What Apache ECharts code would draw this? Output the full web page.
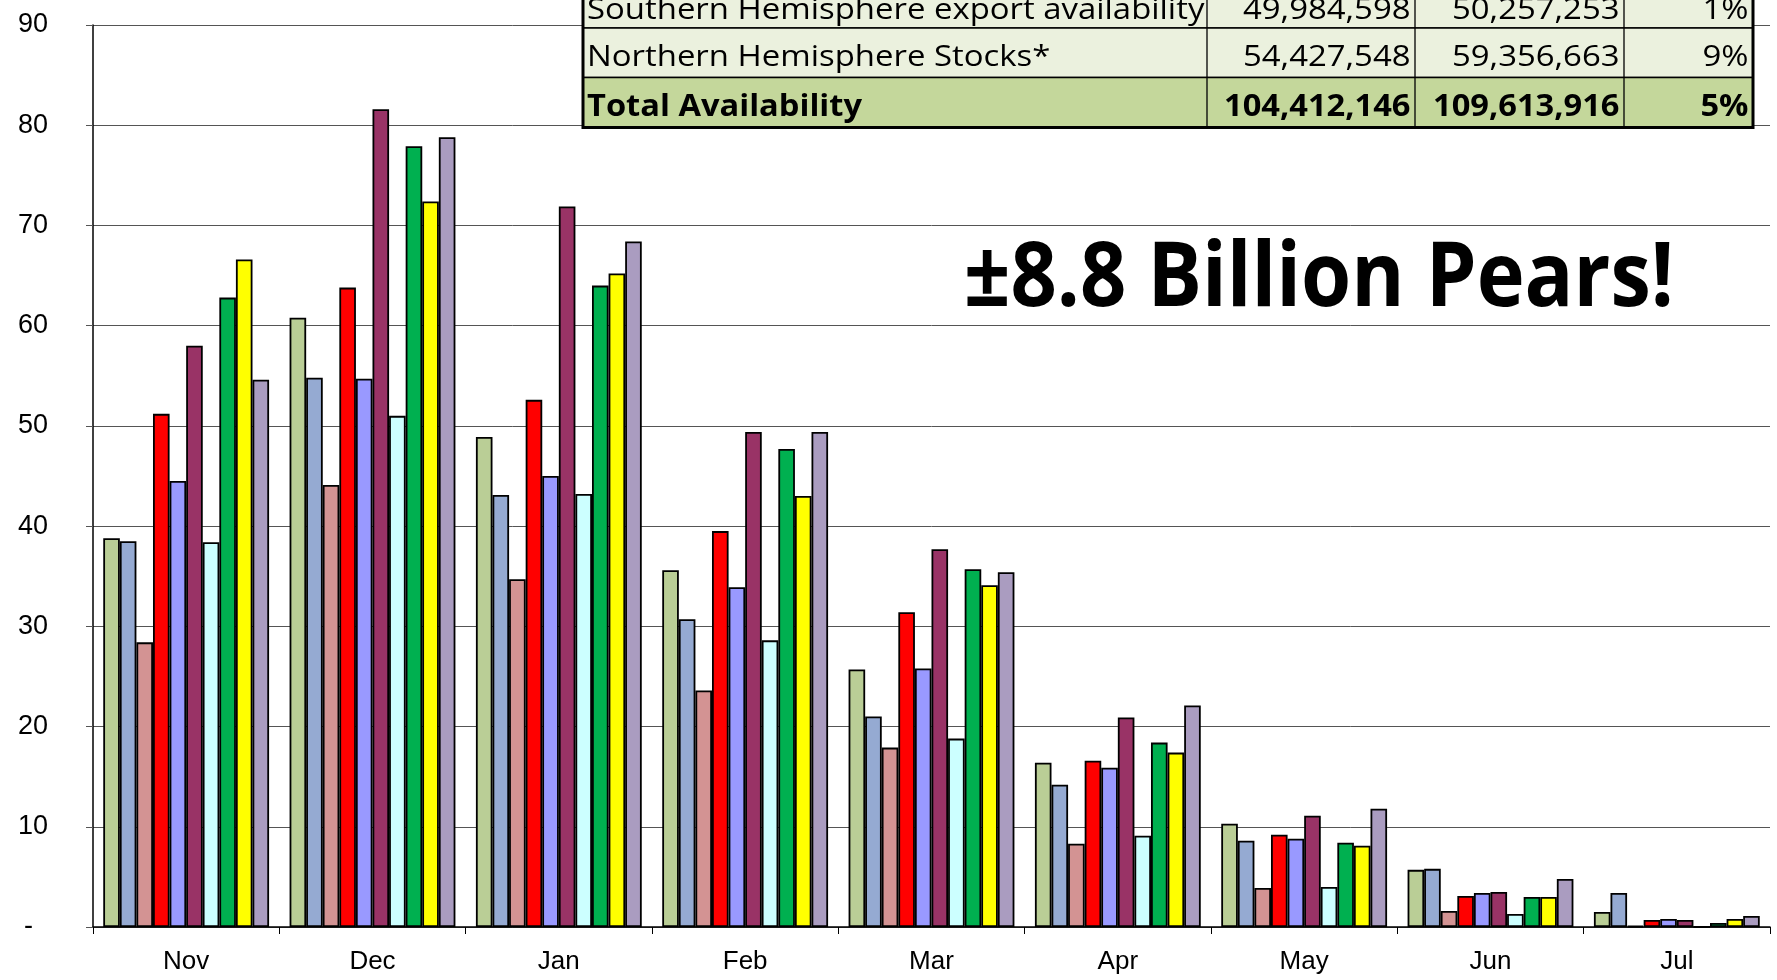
<!DOCTYPE html>
<html>
<head>
<meta charset="utf-8">
<title>Pears availability</title>
<script src="https://cdn.jsdelivr.net/npm/echarts@6/dist/echarts.min.js"></script>
<style>
  html, body { margin: 0; padding: 0; background: #fff; }
  #chart { width: 1777px; height: 980px; }
</style>
</head>
<body>
<div id="chart"></div>
<script>
// months on the x axis
const months = ['Nov', 'Dec', 'Jan', 'Feb', 'Mar', 'Apr', 'May', 'Jun', 'Jul'];
const yTicks = [0, 10, 20, 30, 40, 50, 60, 70, 80, 90];

// one array per season
const season1 = [38.8, 60.8, 48.9, 35.6, 25.7, 16.4, 10.3, 5.7, 1.5];
const season2 = [38.5, 54.8, 43.1, 30.7, 21.0, 14.2, 8.6, 5.8, 3.4];
const season3 = [28.4, 44.1, 34.7, 23.6, 17.9, 8.3, 3.9, 1.6, 0.1];
const season4 = [51.2, 63.8, 52.6, 39.5, 31.4, 16.6, 9.2, 3.1, 0.7];
const season5 = [44.5, 54.7, 45.0, 33.9, 25.8, 15.9, 8.8, 3.4, 0.8];
const season6 = [58.0, 81.6, 71.9, 49.4, 37.7, 20.9, 11.1, 3.5, 0.7];
const season7 = [38.4, 51.0, 43.2, 28.6, 18.8, 9.1, 4.0, 1.3, 0];
const season8 = [62.8, 77.9, 64.0, 47.7, 35.7, 18.4, 8.4, 3.0, 0.4];
const season9 = [66.6, 72.4, 65.2, 43.0, 34.1, 17.4, 8.1, 3.0, 0.8];
const season10 = [54.6, 78.8, 68.4, 49.4, 35.4, 22.1, 11.8, 4.8, 1.1];

// table in the top right corner
const tableLabels = ['Southern Hemisphere export availability', 'Northern Hemisphere Stocks*', 'Total Availability'];
const tableYearA = ['49,984,598', '54,427,548', '104,412,146'];
const tableYearB = ['50,257,253', '59,356,663', '109,613,916'];
const tableChange = ['1%', '9%', '5%'];

const seasons = [season1, season2, season3, season4, season5, season6, season7, season8, season9, season10];
const colors = ['#BACE96', '#95AAD2', '#D39393', '#FF0000', '#9999FF', '#993366', '#CCFFFF', '#00B050', '#FFFF00', '#AA9CC0'];

let myChart = echarts.init(document.getElementById('chart'));

// the picture uses Calibri, which is not here: squeeze Open Sans to the same widths
const measureCtx = document.createElement('canvas').getContext('2d');
function textWidth(font, text) {
  measureCtx.font = font;
  return measureCtx.measureText(text).width;
}
const regFont = '30px "Open Sans", sans-serif';
const boldFont = 'bold 30px "Open Sans", sans-serif';
const bigFont = 'bold 90px "Open Sans", sans-serif';
const regScale = 167.5 / textWidth(regFont, '54,427,548');
const boldScale = 186.5 / textWidth(boldFont, '104,412,146');
const bigScale = 710 / textWidth(bigFont, '\u00B18.8 Billion Pears!');

// table geometry
const colX = [583, 1207, 1415, 1624, 1753];
const rowY = [-22, 28, 77.5, 127.5];
const rowText = [10.5, 57, 107];

let graphics = [];
for (let r = 0; r < 3; r++) {
  let bold = r === 2;
  graphics.push({
    type: 'rect', z: 100,
    shape: { x: colX[0], y: rowY[r], width: colX[4] - colX[0], height: rowY[r + 1] - rowY[r] },
    style: { fill: bold ? '#C4D79B' : '#EBF1DE', stroke: '#000', lineWidth: 1.5 }
  });
  for (let c = 1; c < 4; c++) {
    graphics.push({
      type: 'line', z: 101,
      shape: { x1: colX[c], y1: rowY[r], x2: colX[c], y2: rowY[r + 1] },
      style: { stroke: '#000', lineWidth: 1.3 }
    });
  }
  let font = bold ? boldFont : regFont;
  let sx = bold ? boldScale : regScale;
  graphics.push({
    type: 'text', z: 102, x: colX[0] + 4, y: rowText[r], scaleX: sx,
    style: { text: tableLabels[r], font: font, fill: '#000', textAlign: 'left', textVerticalAlign: 'middle' }
  });
  let cells = [tableYearA[r], tableYearB[r], tableChange[r]];
  for (let c = 0; c < 3; c++) {
    graphics.push({
      type: 'text', z: 102, x: colX[c + 2] - 4.5, y: rowText[r], scaleX: sx,
      style: { text: cells[c], font: font, fill: '#000', textAlign: 'right', textVerticalAlign: 'middle' }
    });
  }
}
// outer border of the table
graphics.push({
  type: 'rect', z: 103,
  shape: { x: colX[0], y: rowY[0], width: colX[4] - colX[0], height: rowY[3] - rowY[0] },
  style: { fill: null, stroke: '#000', lineWidth: 3 }
});
// big note
graphics.push({
  type: 'text', z: 102, x: 964, y: 280, scaleX: bigScale,
  style: { text: '\u00B18.8 Billion Pears!', font: bigFont, fill: '#000', textAlign: 'left', textVerticalAlign: 'middle' }
});

let option = {
  animation: false,
  backgroundColor: '#fff',
  grid: { left: 93, right: 7, top: 25, bottom: 53, outerBoundsMode: 'none' },
  xAxis: {
    type: 'category',
    data: months,
    boundaryGap: true,
    axisLine: { lineStyle: { color: '#000', width: 1.5 } },
    axisTick: { show: true, interval: 0, length: 7, lineStyle: { color: '#000', width: 1 } },
    axisLabel: { color: '#000', fontSize: 26, fontFamily: 'Liberation Sans, Arial, sans-serif', margin: 22 },
    splitLine: { show: false }
  },
  yAxis: {
    type: 'value',
    min: yTicks[0],
    max: yTicks[yTicks.length - 1],
    interval: 10,
    axisLine: { show: true, lineStyle: { color: '#000', width: 1.5 } },
    axisTick: { show: true, length: 7, lineStyle: { color: '#555', width: 1 } },
    axisLabel: {
      color: '#000', fontSize: 27, fontFamily: 'Liberation Sans, Arial, sans-serif', margin: 45,
      formatter: function (v) { return v === 0 ? '-  ' : String(v); }
    },
    splitLine: { show: true, lineStyle: { color: '#555', width: 1 } }
  },
  series: seasons.map(function (vals, i) {
    return {
      type: 'bar',
      data: vals,
      barGap: '0%',
      barCategoryGap: '11%',
      itemStyle: { color: colors[i], borderColor: '#000', borderWidth: 1.8 }
    };
  }),
  graphic: graphics
};

myChart.setOption(option);
</script>
</body>
</html>
